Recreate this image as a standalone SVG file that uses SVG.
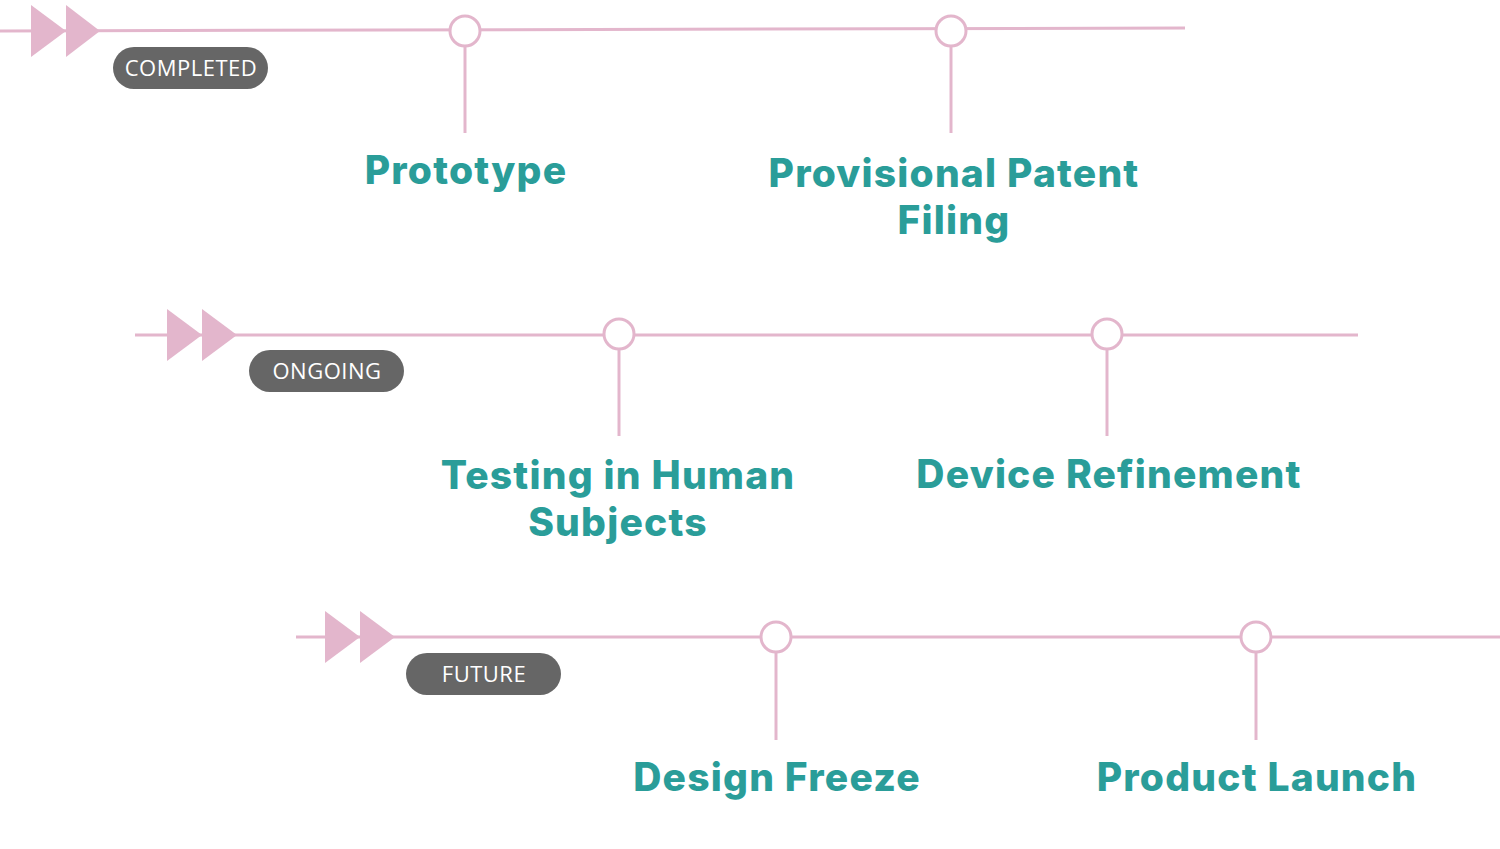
<svg xmlns="http://www.w3.org/2000/svg" width="1500" height="849" viewBox="0 0 1500 849">
<defs>
<style>
.ln{stroke:#e3b6cc;stroke-width:3;fill:none}
.node{fill:#fff;stroke:#e3b6cc;stroke-width:3}
.tri{fill:#e3b6cc}
.badge{fill:#666666}
.bt{font-family:"Open Sans","Lato",sans-serif;font-size:22px;letter-spacing:0.5px;fill:#fff;text-anchor:middle}
.title{font-family:"Inter","Open Sans",sans-serif;font-weight:800;font-size:39px;letter-spacing:1.2px;fill:#2a9d99;text-anchor:middle}
</style>
</defs>
<rect width="1500" height="849" fill="#fff"/>
<g id="connectors">
<line class="ln" x1="0" y1="31" x2="1185" y2="28"/>
<line class="ln" x1="465" y1="47" x2="465" y2="133"/>
<line class="ln" x1="951" y1="47" x2="951" y2="133"/>
<line class="ln" x1="135" y1="335" x2="1358" y2="335"/>
<line class="ln" x1="619" y1="350" x2="619" y2="436"/>
<line class="ln" x1="1107" y1="350" x2="1107" y2="436"/>
<line class="ln" x1="296" y1="637" x2="1500" y2="637"/>
<line class="ln" x1="776" y1="653" x2="776" y2="740"/>
<line class="ln" x1="1256" y1="653" x2="1256" y2="740"/>
</g>
<g id="start-completed">
<polygon class="tri" points="31,5 66,31 31,57"/>
<polygon class="tri" points="66,5 100,31 66,57"/>
<rect class="badge" x="113" y="47" width="155" height="42" rx="21"/>
<text class="bt" x="191" y="76">COMPLETED</text>
</g>
<g id="start-ongoing">
<polygon class="tri" points="167,309 202,335 167,361"/>
<polygon class="tri" points="202,309 237,335 202,361"/>
<rect class="badge" x="249" y="350" width="155" height="42" rx="21"/>
<text class="bt" x="327" y="379">ONGOING</text>
</g>
<g id="start-future">
<polygon class="tri" points="325,611 360,637 325,663"/>
<polygon class="tri" points="360,611 395,637 360,663"/>
<rect class="badge" x="406" y="653" width="155" height="42" rx="21"/>
<text class="bt" x="484" y="682">FUTURE</text>
</g>
<g id="prototype">
<circle class="node" cx="465" cy="31" r="15"/>
<text class="title" x="466" y="184">Prototype</text>
</g>
<g id="provisional-patent">
<circle class="node" cx="951" cy="31" r="15"/>
<text class="title" x="954" y="187">Provisional Patent</text>
<text class="title" x="954" y="234">Filing</text>
</g>
<g id="testing">
<circle class="node" cx="619" cy="334" r="15"/>
<text class="title" x="618" y="489">Testing in Human</text>
<text class="title" x="618" y="536">Subjects</text>
</g>
<g id="device-refinement">
<circle class="node" cx="1107" cy="334" r="15"/>
<text class="title" x="1109" y="488">Device Refinement</text>
</g>
<g id="design-freeze">
<circle class="node" cx="776" cy="637" r="15"/>
<text class="title" x="777" y="791">Design Freeze</text>
</g>
<g id="product-launch">
<circle class="node" cx="1256" cy="637" r="15"/>
<text class="title" x="1257" y="791">Product Launch</text>
</g>
</svg>
